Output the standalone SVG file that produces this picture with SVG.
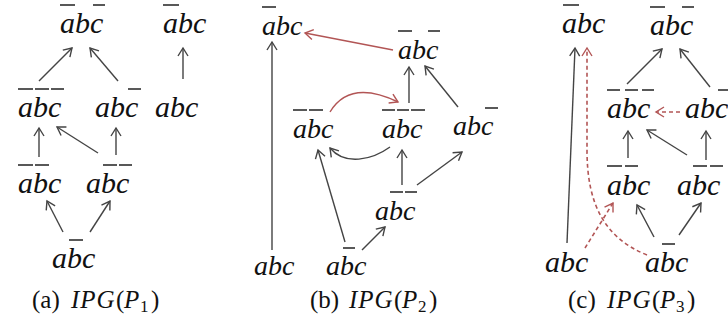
<svg xmlns="http://www.w3.org/2000/svg" width="728" height="329" viewBox="0 0 728 329" font-family="Liberation Serif, Times New Roman, DejaVu Serif, serif">
<style>
text{font-family:'Liberation Serif','Times New Roman','DejaVu Serif',serif}
.lbl{font-style:italic;font-size:30px;fill:#111}
.lb{font-size:28px}
.bar{stroke:#222;stroke-width:1.5;fill:none}
.e{stroke:#444;stroke-width:1.4;fill:none;marker-end:url(#ah)}
.r{stroke:#b25555;stroke-width:1.4;fill:none;marker-end:url(#ahr)}
.rd{stroke:#b25555;stroke-width:1.6;fill:none;stroke-dasharray:4 3;marker-end:url(#ahr)}
.cap{font-size:25px;fill:#111}
.it{font-style:italic}
.sub{font-size:17px}
</style>
<defs>
<marker id="ah" markerWidth="12" markerHeight="12" refX="10" refY="6" orient="auto" markerUnits="userSpaceOnUse"><path d="M2,1 L10,6 L2,11" fill="none" stroke="#444" stroke-width="1.4"/></marker>
<marker id="ahr" markerWidth="12" markerHeight="12" refX="10" refY="6" orient="auto" markerUnits="userSpaceOnUse"><path d="M2,1 L10,6 L2,11" fill="none" stroke="#b25555" stroke-width="1.4"/></marker>
</defs>
<rect width="728" height="329" fill="#fff"/>

<g id="connectors">
<!-- panel a -->
<line class="e" x1="39" y1="81" x2="72" y2="48"/>
<line class="e" x1="118" y1="81" x2="90" y2="48"/>
<line class="e" x1="183" y1="79" x2="183" y2="48"/>
<line class="e" x1="39" y1="157" x2="39" y2="128"/>
<line class="e" x1="98" y1="153" x2="57" y2="127"/>
<line class="e" x1="116" y1="155" x2="116" y2="128"/>
<line class="e" x1="63" y1="232" x2="47" y2="201"/>
<line class="e" x1="90" y1="232" x2="110" y2="201"/>
<!-- panel b -->
<line class="r" x1="393" y1="50" x2="305" y2="33"/>
<line class="e" x1="272" y1="250" x2="272" y2="42"/>
<line class="e" x1="409" y1="103" x2="409" y2="67"/>
<line class="e" x1="458" y1="107" x2="425" y2="66"/>
<path class="r" d="M330,112 Q350,79 398,102"/>
<path class="e" d="M390,147 C372,160 345,166 330,148"/>
<line class="e" x1="345" y1="242" x2="318" y2="150"/>
<line class="e" x1="402" y1="185" x2="402" y2="150"/>
<line class="e" x1="417" y1="185" x2="462" y2="152"/>
<line class="e" x1="362" y1="250" x2="385" y2="227"/>
<!-- panel c -->
<line class="e" x1="627" y1="84" x2="662" y2="49"/>
<line class="e" x1="710" y1="87" x2="680" y2="49"/>
<line class="rd" x1="680" y1="112" x2="656" y2="112"/>
<line class="e" x1="567" y1="243" x2="575" y2="48"/>
<path class="rd" d="M647,255 C605,238 587,205 587,150 L587,48"/>
<line class="rd" x1="585" y1="248" x2="613" y2="203"/>
<line class="e" x1="628" y1="158" x2="628" y2="131"/>
<line class="e" x1="687" y1="155" x2="647" y2="130"/>
<line class="e" x1="706" y1="160" x2="706" y2="131"/>
<line class="e" x1="654" y1="237" x2="637" y2="205"/>
<line class="e" x1="679" y1="235" x2="701" y2="203"/>
</g>

<!-- panel a nodes -->
<g id="a1"><text class="lbl" x="60" y="33">abc</text><path class="bar" d="M60,5h15M93,5h12"/></g>
<g id="a2"><text class="lbl" x="163" y="33">abc</text><path class="bar" d="M163,5h16"/></g>
<g id="a3"><text class="lbl" x="18" y="117">abc</text><path class="bar" d="M18,89h15M35,89h14M51,89h13"/></g>
<g id="a4"><text class="lbl" x="95" y="117">abc</text><path class="bar" d="M128,89h13"/></g>
<g id="a5"><text class="lbl" x="155" y="117">abc</text></g>
<g id="a6"><text class="lbl" x="18" y="193">abc</text><path class="bar" d="M18,165h15M35,165h14"/></g>
<g id="a7"><text class="lbl" x="86" y="193">abc</text><path class="bar" d="M103,165h14M119,165h13"/></g>
<g id="a8"><text class="lbl" x="52" y="268">abc</text><path class="bar" d="M69,240h14"/></g>

<!-- panel b nodes -->
<g id="b1"><text class="lbl lb" x="262" y="35">abc</text><path class="bar" d="M262,7h14"/></g>
<g id="b2"><text class="lbl lb" x="398" y="59">abc</text><path class="bar" d="M398,31h14M428,31h12"/></g>
<g id="b3"><text class="lbl lb" x="293" y="138">abc</text><path class="bar" d="M293,110h14M309,110h14"/></g>
<g id="b4"><text class="lbl lb" x="382" y="138">abc</text><path class="bar" d="M382,110h13M397,110h12M411,110h14"/></g>
<g id="b5"><text class="lbl lb" x="453" y="135">abc</text><path class="bar" d="M485,108h13"/></g>
<g id="b6"><text class="lbl lb" x="375" y="220">abc</text><path class="bar" d="M390,192h13M405,192h12"/></g>
<g id="b7"><text class="lbl lb" x="254" y="275">abc</text></g>
<g id="b8"><text class="lbl lb" x="326" y="275">abc</text><path class="bar" d="M343,248h12"/></g>

<!-- panel c nodes -->
<g id="c1"><text class="lbl" x="562" y="33">abc</text><path class="bar" d="M563,5h16"/></g>
<g id="c2"><text class="lbl" x="650" y="35">abc</text><path class="bar" d="M650,7h15M682,7h12"/></g>
<g id="c3"><text class="lbl" x="607" y="118">abc</text><path class="bar" d="M607,90h13M625,90h13M642,90h12"/></g>
<g id="c4"><text class="lbl" x="685" y="118">abc</text><path class="bar" d="M718,90h14"/></g>
<g id="c5"><text class="lbl" x="607" y="195">abc</text><path class="bar" d="M607,166h15M625,166h13"/></g>
<g id="c6"><text class="lbl" x="677" y="195">abc</text><path class="bar" d="M693,166h14M710,166h13"/></g>
<g id="c7"><text class="lbl" x="545" y="272">abc</text></g>
<g id="c8"><text class="lbl" x="645" y="272">abc</text><path class="bar" d="M662,244h13"/></g>

<!-- captions -->
<g id="captions">
<text class="cap" y="308"><tspan x="32">(a)</tspan><tspan class="it" x="71" letter-spacing="1">IPG</tspan><tspan x="116">(</tspan><tspan class="it" x="124">P</tspan><tspan class="sub" x="140" dy="4">1</tspan><tspan x="151" dy="-4">)</tspan></text>
<text class="cap" y="308"><tspan x="310">(b)</tspan><tspan class="it" x="349" letter-spacing="1">IPG</tspan><tspan x="394">(</tspan><tspan class="it" x="402">P</tspan><tspan class="sub" x="418" dy="4">2</tspan><tspan x="429" dy="-4">)</tspan></text>
<text class="cap" y="308"><tspan x="568">(c)</tspan><tspan class="it" x="607" letter-spacing="1">IPG</tspan><tspan x="652">(</tspan><tspan class="it" x="660">P</tspan><tspan class="sub" x="676" dy="4">3</tspan><tspan x="687" dy="-4">)</tspan></text>
</g>
</svg>
